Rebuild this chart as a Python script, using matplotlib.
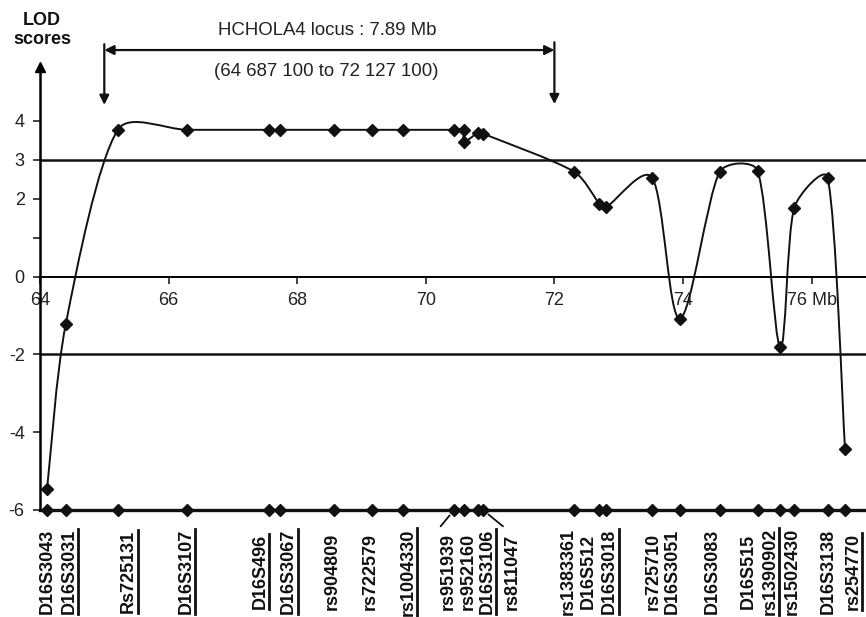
import numpy as np
import matplotlib.pyplot as plt
from matplotlib.path import Path
from matplotlib.patches import PathPatch

plt.rcParams['font.family'] = ['Liberation Sans', 'DejaVu Sans']

# markers along the chromosome (Mb) with their LOD scores
markers = ['D16S3043', 'D16S3031', 'Rs725131', 'D16S3107', 'D16S496', 'D16S3067',
           'rs904809', 'rs722579', 'rs1004330', 'rs951939', 'rs952160', 'D16S3106',
           'rs811047', 'rs1383361', 'D16S512', 'D16S3018', 'rs725710', 'D16S3051',
           'D16S3083', 'D16S515', 'rs1390902', 'rs1502430', 'D16S3138', 'rs254770']
pos = [64.11, 64.40, 65.21, 66.29, 67.56, 67.73, 68.57, 69.16, 69.65, 70.44, 70.59, 70.81,
       70.89, 72.31, 72.70, 72.81, 73.52, 73.95, 74.57, 75.16, 75.51, 75.73, 76.25, 76.52]
lod = [-5.46, -1.23, 3.77, 3.77, 3.77, 3.77, 3.77, 3.77, 3.77, 3.77, 3.77, 3.69,
       3.67, 2.69, 1.87, 1.79, 2.54, -1.08, 2.69, 2.72, -1.82, 1.77, 2.54, -4.44]
# rs952160 has a second value
extra_idx = 10
extra_lod = 3.46

# where the names are written below the marker line
label_pos = [64.11, 64.45, 65.37, 66.27, 67.42, 67.86, 68.54, 69.13, 69.72, 70.35, 70.66, 70.95,
             71.34, 72.21, 72.52, 72.86, 73.53, 73.83, 74.45, 75.01, 75.35, 75.70, 76.26, 76.64]
underlined = ['D16S3031', 'Rs725131', 'D16S3107', 'D16S496', 'D16S3067', 'rs1004330',
              'D16S3106', 'D16S3018', 'rs1390902', 'rs254770']
leaders = {'rs951939': -0.12, 'rs811047': -0.14}

locus_start, locus_end = 65.0, 72.0
xticks = [64, 66, 68, 70, 72, 74, 76]
xticklabels = ['64', '66', '68', '70', '72', '74', '76 Mb']
yticks = [4, 3, 2, 1, 0, -2, -4, -6]
yticklabels = ['4', '3', '2', '', '0', '-2', '-4', '-6']

fig = plt.figure(figsize=(8.66, 6.17), dpi=100)
ax = fig.add_axes([40 / 866, 107 / 617, 826 / 866, 447.5 / 617])
ax.set_xlim(64, 64 + 826 / 64.3)
ax.set_ylim(-6, 5.5)

for s in ['top', 'right']:
    ax.spines[s].set_visible(False)
ax.spines['bottom'].set_position(('data', 0))
ax.spines['bottom'].set_linewidth(1.4)
ax.spines['left'].set_linewidth(1.8)
ax.spines['left'].set_bounds(-6, 5.3)
ax.plot(64, 5.38, marker='^', ms=7.5, color='k', clip_on=False)

ax.set_xticks(xticks)
ax.set_xticklabels(xticklabels)
ax.set_yticks(yticks)
ax.set_yticklabels(yticklabels)
ax.tick_params(axis='both', direction='out', length=5, width=1.2, labelsize=13, pad=6,
               colors='#222222')

ax.axhline(3, color='#111111', lw=1.8)
ax.axhline(-2, color='#111111', lw=1.8)

# smoothed LOD curve: bezier through the points, handles limited
# to a share of the segment length (measured in screen units)
cx = np.insert(np.array(pos), extra_idx + 1, pos[extra_idx])
cy = np.insert(np.array(lod), extra_idx + 1, extra_lod)
scale = np.array([64.3, 39.0])
pts = np.column_stack([cx, cy]) * scale
n = len(pts)


def handle(a, b, seg):
    d = b - a
    ln = np.hypot(*d)
    if ln == 0:
        return d * 0
    return d / ln * min(ln / 6, 0.3 * seg)


verts = [pts[0]]
codes = [Path.MOVETO]
for i in range(n - 1):
    p0 = pts[max(i - 1, 0)]
    p1 = pts[i]
    p2 = pts[i + 1]
    p3 = pts[min(i + 2, n - 1)]
    seg = np.hypot(*(p2 - p1))
    verts += [p1 + handle(p0, p2, seg), p2 - handle(p1, p3, seg), p2]
    codes += [Path.CURVE4] * 3
verts = np.array(verts) / scale
ax.add_patch(PathPatch(Path(verts, codes), fill=False, lw=1.4, edgecolor='#111111'))
ax.plot(cx, cy, 'D', ms=6, color='#111111', clip_on=False)

# marker line at the bottom
ax.axhline(-6, color='#111111', lw=2.4, clip_on=False)
ax.plot(pos, [-6] * len(pos), 'D', ms=6, color='#111111', clip_on=False)

texts = []
for name, lx in zip(markers, label_pos):
    t = ax.text(lx, -7.59, name, rotation=90, ha='center', va='center',
                fontsize=13, fontweight='bold', color='#111111')
    texts.append(t)

for name, dx in leaders.items():
    i = markers.index(name)
    ax.annotate('', xy=(pos[i], -6), xytext=(label_pos[i] + dx, -6.42),
                arrowprops=dict(arrowstyle='-', lw=1.3, color='#111111', shrinkA=0, shrinkB=5),
                annotation_clip=False)

# locus annotation
ap = dict(arrowstyle='<|-|>', lw=1.6, color='#111111', mutation_scale=14, shrinkA=0, shrinkB=0)
ax.annotate('', xy=(locus_start, 5.82), xytext=(locus_end, 5.82), arrowprops=ap,
            annotation_clip=False)
ap1 = dict(arrowstyle='-|>', lw=1.6, color='#111111', mutation_scale=14, shrinkA=0, shrinkB=0)
ax.annotate('', xy=(locus_start, 4.41), xytext=(locus_start, 5.97), arrowprops=ap1,
            annotation_clip=False)
ax.annotate('', xy=(locus_end, 4.43), xytext=(locus_end, 6.02), arrowprops=ap1,
            annotation_clip=False)
mid = (locus_start + locus_end) / 2
ax.text(mid - 0.04, 6.31, 'HCHOLA4 locus : 7.89 Mb', ha='center', va='center',
        fontsize=13.4, color='#222222')
ax.text(mid - 0.05, 5.26, '(64 687 100 to 72 127 100)', ha='center', va='center',
        fontsize=13.4, color='#222222')
ax.text(64.03, 6.33, 'LOD\nscores', ha='center', va='center', fontsize=13,
        fontweight='bold', linespacing=1.15, color='#111111')

# underline bars next to the rotated names
fig.canvas.draw()
r = fig.canvas.get_renderer()
inv = ax.transData.inverted()
for name, t in zip(markers, texts):
    if name in underlined:
        bb = t.get_window_extent(r)
        (x0, y0), (x1, y1) = inv.transform([(bb.x1 + 1, bb.y0), (bb.x1 + 1, bb.y1)])
        ax.plot([x0, x1], [y0, y1], color='#111111', lw=2.0, clip_on=False)

fig.savefig('out.png', dpi=100)
